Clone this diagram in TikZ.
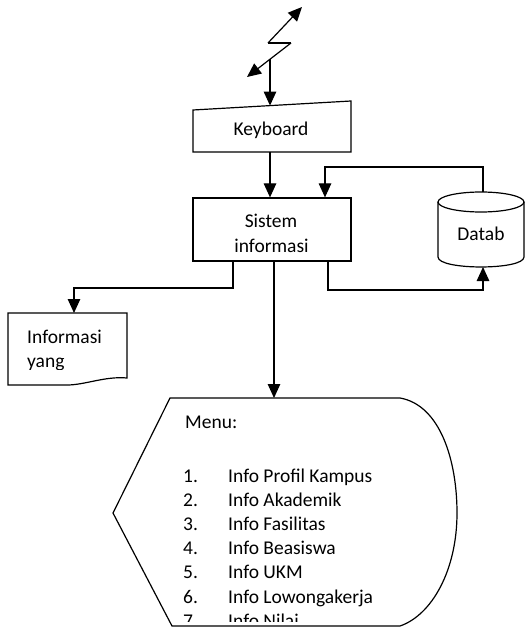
\documentclass[tikz,border=0pt]{standalone}
\usepackage{fontspec}
\setmainfont{Carlito}
\usetikzlibrary{arrows.meta}

\tikzset{
  flow/.style={line width=1.2pt},
  arr/.style={flow,-{Triangle[length=14pt,width=12.5pt]}},
  lbl/.style={inner sep=0pt,font=\fontsize{19.5}{25}\selectfont},
}

\begin{document}
\begin{tikzpicture}[x=1pt,y=-1pt]
  \useasboundingbox (0,0) rectangle (526,628);

  %%%%%%%%%%%%%%%%%%%%%%%%%%%%%%%%%%%%%%%%%%%%%%%%%%%%%%%%%%%%%%%%%%%%%%%%%%%
  %%%%  signal (zigzag with two heads)
  \coordinate (zigA) at (268,43);
  \coordinate (zigB) at (291,43);
  \coordinate (sigUp) at (302,7);
  \coordinate (sigDown) at (247,77);
  \coordinate (sigFoot) at (270,59);
  \draw[arr] (zigA) -- (sigUp);
  \draw[flow] (zigA) -- (zigB);
  \draw[arr] (zigB) -- (sigDown);

  %%%%%%%%%%%%%%%%%%%%%%%%%%%%%%%%%%%%%%%%%%%%%%%%%%%%%%%%%%%%%%%%%%%%%%%%%%%
  %%%%  keyboard (manual input)
  \draw[flow] (193,110) -- (351,101) -- (351,152) -- (193,152) -- cycle;
  \node[lbl,anchor=base] (keyboard) at (271,136) {Keyboard};
  \coordinate (kbTop) at (270,105.6);
  \coordinate (kbBot) at (270,152);
  \draw[arr] (sigFoot) -- (kbTop);

  %%%%%%%%%%%%%%%%%%%%%%%%%%%%%%%%%%%%%%%%%%%%%%%%%%%%%%%%%%%%%%%%%%%%%%%%%%%
  %%%%  sistem informasi
  \node[draw,flow,minimum width=158pt,minimum height=63pt] (sistem) at (272,229.5) {};
  \node[lbl,anchor=base] (sisA) at (271,227) {Sistem};
  \node[lbl,anchor=base] (sisB) at (271.5,252) {informasi};
  \draw[arr] (kbBot) -- (kbBot |- sistem.north);

  %%%%%%%%%%%%%%%%%%%%%%%%%%%%%%%%%%%%%%%%%%%%%%%%%%%%%%%%%%%%%%%%%%%%%%%%%%%
  %%%%  database
  \draw[flow] (438,202) -- (438,257)
    .. controls (438,270.3) and (524,270.3) .. (524,257) -- (524,202);
  \draw[flow] (481,202) ellipse [x radius=43, y radius=10];
  \node[lbl,anchor=base] (datab) at (481,240) {Datab};
  \coordinate (dbTop) at (483,192);
  \coordinate (dbBot) at (483,267);

  \coordinate (loopTop) at (325,167);
  \draw[arr] (dbTop) |- (loopTop) -- (loopTop |- sistem.north);

  \coordinate (busR) at (328,290);
  \draw[arr] (sistem.south -| busR) -- (busR) -| (dbBot);

  %%%%%%%%%%%%%%%%%%%%%%%%%%%%%%%%%%%%%%%%%%%%%%%%%%%%%%%%%%%%%%%%%%%%%%%%%%%
  %%%%  document
  \draw[flow] (8,313) -- (127,313) -- (127,378)
    .. controls (105,376) and (85,385) .. (67,385) -- (8,385) -- cycle;
  \begin{scope}
    \clip (8,313) rectangle (127,369);
    \node[lbl,anchor=base west] (infoA) at (27,343) {Informasi};
    \node[lbl,anchor=base west] (infoB) at (27,367) {yang};
  \end{scope}
  \coordinate (docTop) at (74,313);
  \coordinate (busL) at (233,288);
  \draw[arr] (sistem.south -| busL) -- (busL) -| (docTop);

  %%%%%%%%%%%%%%%%%%%%%%%%%%%%%%%%%%%%%%%%%%%%%%%%%%%%%%%%%%%%%%%%%%%%%%%%%%%
  %%%%  menu (display)
  \draw[flow] (170,398) -- (400,398)
    .. controls (440,405) and (457,460) .. (457,513)
    .. controls (457,570) and (432,615) .. (400,626)
    -- (172,626) -- (113,513) -- cycle;
  \coordinate (menuTop) at (274,398);
  \draw[arr] (sistem.south -| menuTop) -- (menuTop);

  \begin{scope}
    \clip (170,398) rectangle (420,621);
    \node[lbl,anchor=base west] (menu) at (185,428) {Menu:};
    \foreach \n/\item in {1/Info Profil Kampus,2/Info Akademik,3/Info Fasilitas,
      4/Info Beasiswa,5/Info UKM,6/Info Lowongakerja,7/Info Nilai}
     {\pgfmathsetmacro\yb{482 + (\n-1)*24.2}
      \node[lbl,anchor=base west] (num\n) at (183,\yb) {\n.};
      \node[lbl,anchor=base west] (item\n) at (228,\yb) {\item};
     };
  \end{scope}
\end{tikzpicture}
\end{document}
